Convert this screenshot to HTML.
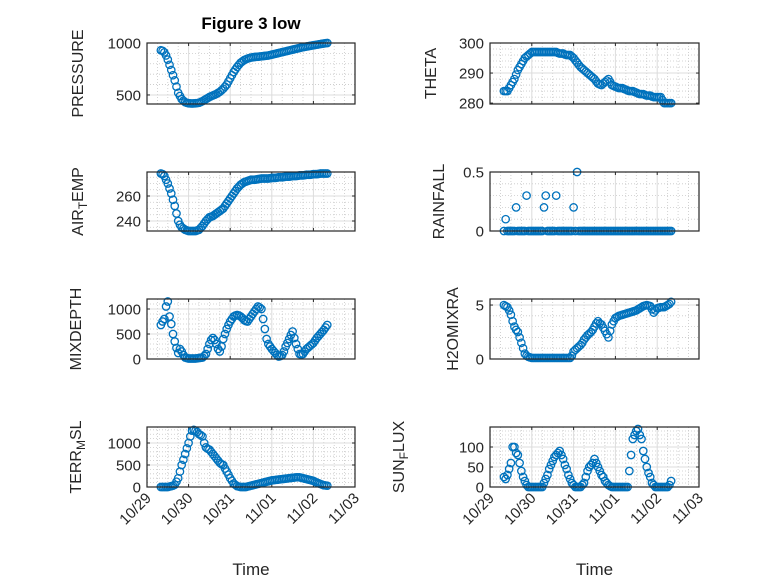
<!DOCTYPE html>
<html><head><meta charset="utf-8"><style>
body{margin:0;background:#fff;}
svg{display:block;font-family:"Liberation Sans",sans-serif;}
</style></head><body>
<svg id="fig" width="778" height="583" viewBox="0 0 778 583"></svg>
<script>
const hours=[8,9,10,11,12,13,14,15,16,17,18,19,20,21,22,23,24,25,26,27,28,29,30,31,32,33,34,35,36,37,38,39,40,41,42,43,44,45,46,47,48,49,50,51,52,53,54,55,56,57,58,59,60,61,62,63,64,65,66,67,68,69,70,71,72,73,74,75,76,77,78,79,80,81,82,83,84,85,86,87,88,89,90,91,92,93,94,95,96,97,98,99,100,101,102,103,104];
const pressure=[930,925,910,880,840,790,740,690,640,580,520,490,460,445,430,425,420,419,418,419,420,422,425,432,440,450,460,470,480,488,495,502,510,520,530,545,560,580,600,630,660,690,720,745,770,790,810,823,835,843,850,855,860,863,865,867,868,870,872,874,876,878,880,884,888,892,896,900,904,908,912,916,920,924,928,932,936,940,944,948,952,956,960,963,966,969,972,975,978,981,984,987,990,993,995,998,1000];
const airTemp=[278,277.5,276,273,270,266,262,257,252,246,240,237,235,234,233,232.5,232,232,232,232,232,232.5,233,234.5,236,238,240,241.5,243,243.5,244,245,246,247,248,249,250,252,254,256,258,260,262,264,266,267.5,269,270,271,271.5,272,272.5,273,273,273,273.2,273.5,273.7,274,274,274,274,274,274.2,274.5,274.5,274.5,274.7,275,275,275,275.2,275.5,275.5,275.5,275.7,276,276,276,276.2,276.5,276.5,276.5,276.7,277,277,277,277.2,277.5,277.5,277.5,277.7,278,278,278,278,278];
const mixDepth=[680,750,800,1050,1150,850,700,500,350,220,120,200,150,80,30,20,10,10,10,10,10,15,20,25,30,60,100,200,300,380,420,380,300,200,150,250,400,500,600,680,750,800,850,870,880,870,850,820,780,760,750,800,850,900,950,1000,1050,1030,1000,800,600,400,300,250,200,160,120,80,50,60,80,150,250,320,400,480,550,420,300,200,100,90,100,150,200,230,260,290,320,370,420,460,500,540,580,630,680];
const terrMsl=[0,0,0,0,0,10,20,30,50,120,200,350,500,620,750,880,1000,1150,1280,1300,1280,1250,1200,1180,1150,1000,900,870,850,800,750,700,650,600,550,520,500,420,350,280,200,140,80,50,20,10,0,0,0,0,10,20,30,40,50,60,70,80,90,100,110,120,130,140,150,155,160,165,170,175,180,185,190,195,200,205,210,215,220,220,220,210,200,190,180,170,160,150,140,120,100,85,70,55,40,35,30];
const theta=[284,284,284,285,286,287,288,289.5,291,292,293,294,295,295.5,296,296.5,297,297,297,297,297,297,297,297,297,297,297,297,297,297,297,296.7,296.5,296.5,296.5,296.2,296,296,296,295.5,295,294.2,293.5,292.7,292,291.5,291,290.5,290,289.5,289,288.5,288,287.2,286.5,286.2,286,286.5,287,287.5,288,287,286,285.7,285.5,285.2,285,285,285,284.7,284.5,284.2,284,284,284,283.7,283.5,283.2,283,283,283,282.7,282.5,282.5,282.5,282.2,282,282,282,282,282,281,280,280,280,280,280];
const rainfall=[0,0.1,0,0,0,0,0,0.2,0,0,0,0,0,0.3,0,0,0,0,0,0,0,0,0,0.2,0.3,0,0,0,0,0,0.3,0,0,0,0,0,0,0,0,0,0.2,0,0.5,0,0,0,0,0,0,0,0,0,0,0,0,0,0,0,0,0,0,0,0,0,0,0,0,0,0,0,0,0,0,0,0,0,0,0,0,0,0,0,0,0,0,0,0,0,0,0,0,0,0,0,0,0,0];
const h2o=[5,4.9,4.8,4.5,4.1,3.5,3,2.7,2.5,2,1.5,1,0.5,0.3,0.2,0.15,0.1,0.1,0.1,0.1,0.1,0.1,0.1,0.1,0.1,0.1,0.1,0.1,0.1,0.1,0.1,0.1,0.1,0.1,0.1,0.1,0.1,0.1,0.1,0.3,0.7,0.85,1,1.15,1.3,1.5,1.8,2,2.2,2.35,2.5,2.7,3,3.3,3.5,3.3,3.2,2.9,2.6,2.3,2,2.6,3.2,3.5,3.8,3.9,4,4.05,4.1,4.15,4.2,4.25,4.3,4.35,4.4,4.45,4.5,4.6,4.7,4.8,4.9,4.95,5,4.95,4.9,4.6,4.3,4.5,4.7,4.75,4.8,4.8,4.8,4.9,5,5.1,5.3];
const sunFlux=[25,20,30,45,60,100,100,85,80,60,40,25,15,5,0,0,0,0,0,0,0,0,0,10,20,30,45,55,65,75,80,85,90,80,70,55,45,30,20,10,5,0,0,0,0,5,10,25,40,50,55,60,70,60,50,40,30,25,15,10,5,2,0,0,0,0,0,0,0,0,0,0,40,80,120,130,140,145,130,120,90,70,50,35,25,10,5,0,0,0,0,0,0,0,0,5,15];
const xTickLabels=["10/29","10/30","10/31","11/01","11/02","11/03"];

const NS="http://www.w3.org/2000/svg";
const svg=document.getElementById('fig');
function mk(tag,attrs,parent){const e=document.createElementNS(NS,tag);for(const k in attrs)e.setAttribute(k,attrs[k]);(parent||svg).appendChild(e);return e;}

const panels=[
 {name:'pressure',label:['PRESSURE'],data:pressure,x0:147,x1:355,y0:43,y1:104,ymin:413,ymax:1000,ticks:[500,1000],minor:100,lx:77},
 {name:'theta',label:['THETA'],data:theta,x0:490,x1:699,y0:43,y1:104,ymin:279.7,ymax:300,ticks:[280,290,300],minor:2,lx:430},
 {name:'air-temp',label:['AIR','T','EMP'],data:airTemp,x0:147,x1:355,y0:172,y1:231,ymin:232,ymax:279.2,ticks:[240,260],minor:5,lx:77},
 {name:'rainfall',label:['RAINFALL'],data:rainfall,x0:490,x1:699,y0:172,y1:231,ymin:0,ymax:0.5,ticks:[0,0.5],minor:0.1,lx:438},
 {name:'mixdepth',label:['MIXDEPTH'],data:mixDepth,x0:147,x1:355,y0:299,y1:359,ymin:0,ymax:1200,ticks:[0,500,1000],minor:100,lx:75},
 {name:'h2omixratio',label:['H2OMIXRA'],data:h2o,x0:490,x1:699,y0:299,y1:359,ymin:0,ymax:5.56,ticks:[0,5],minor:1,lx:452},
 {name:'terr-msl',label:['TERR','M','SL'],data:terrMsl,x0:147,x1:355,y0:427,y1:487,ymin:0,ymax:1364,ticks:[0,500,1000],minor:100,lx:75,bottom:true},
 {name:'sun-flux',label:['SUN','F','LUX'],data:sunFlux,x0:490,x1:699,y0:427,y1:487,ymin:0,ymax:150,ticks:[0,50,100],minor:10,lx:398,bottom:true}
];

panels.forEach(p=>{
 const g=mk('g',{});
 
 
 const xs=h=>p.x0+(h/24)*(p.x1-p.x0)/5;
 const ys=v=>p.y1-(v-p.ymin)/(p.ymax-p.ymin)*(p.y1-p.y0);
 mk('rect',{x:p.x0,y:p.y0,width:p.x1-p.x0,height:p.y1-p.y0,fill:'#fff'},g);
 for(let h=6;h<120;h+=6){if(h%24===0)continue;const x=xs(h);mk('line',{x1:x,x2:x,y1:p.y0,y2:p.y1,stroke:'#c8c8c8','stroke-width':0.8,'stroke-dasharray':'1,2'},g);}
 const startM=Math.ceil(p.ymin/p.minor);
 for(let k=startM;k*p.minor<=p.ymax+1e-9;k++){const v=k*p.minor;if(p.ticks.some(t=>Math.abs(t-v)<1e-9))continue;const y=ys(v);mk('line',{x1:p.x0,x2:p.x1,y1:y,y2:y,stroke:'#c8c8c8','stroke-width':0.8,'stroke-dasharray':'1,2'},g);}
 for(let d=1;d<5;d++){const x=xs(d*24);mk('line',{x1:x,x2:x,y1:p.y0,y2:p.y1,stroke:'#dcdcdc','stroke-width':1},g);}
 p.ticks.forEach(t=>{const y=ys(t);mk('line',{x1:p.x0,x2:p.x1,y1:y,y2:y,stroke:'#dcdcdc','stroke-width':1},g);
   const tl=mk('text',{x:p.x0-6,y:y+5.5,'text-anchor':'end','font-size':15,fill:'#262626'},g);tl.textContent=String(t);
   
   
   mk('line',{x1:p.x0,x2:p.x0+3,y1:y,y2:y,stroke:'#262626'},g);mk('line',{x1:p.x1,x2:p.x1-3,y1:y,y2:y,stroke:'#262626'},g);});
 for(let d=0;d<=5;d++){const x=xs(d*24);mk('line',{x1:x,x2:x,y1:p.y1,y2:p.y1-3,stroke:'#262626'},g);mk('line',{x1:x,x2:x,y1:p.y0,y2:p.y0+3,stroke:'#262626'},g);
   if(p.bottom){const tl=mk('text',{x:x+5,y:p.y1+12,'text-anchor':'end','font-size':15,fill:'#262626',transform:`rotate(-45 ${x+5} ${p.y1+12})`},g);tl.textContent=xTickLabels[d];
   
   }}
 p.data.forEach((v,i)=>{const c=mk('circle',{cx:xs(hours[i]),cy:ys(v),r:3.7,fill:'none',stroke:'#0072BD','stroke-width':1.3},g);
   
   });
 mk('rect',{x:p.x0,y:p.y0,width:p.x1-p.x0,height:p.y1-p.y0,fill:'none',stroke:'#262626','stroke-width':1.2},g);
 const cy=(p.y0+p.y1)/2, bx=p.lx+6;
 const yl=mk('text',{x:bx,y:cy,'text-anchor':'middle','font-size':16,fill:'#262626',transform:`rotate(-90 ${bx} ${cy})`},g);
 
 
 if(p.label.length===1){yl.textContent=p.label[0];}
 else{const a=mk('tspan',{},yl);a.textContent=p.label[0];const b=mk('tspan',{'font-size':12,dy:4},yl);b.textContent=p.label[1];const c=mk('tspan',{dy:-4},yl);c.textContent=p.label[2];}
 if(p.bottom){const t=mk('text',{x:(p.x0+p.x1)/2,y:575,'text-anchor':'middle','font-size':17,fill:'#262626'},g);t.textContent='Time';
   
   }
});
const title=mk('text',{x:251,y:29,'text-anchor':'middle','font-size':17,'font-weight':'bold',fill:'#000'});
title.textContent='Figure 3 low';


</script>
</body></html>
